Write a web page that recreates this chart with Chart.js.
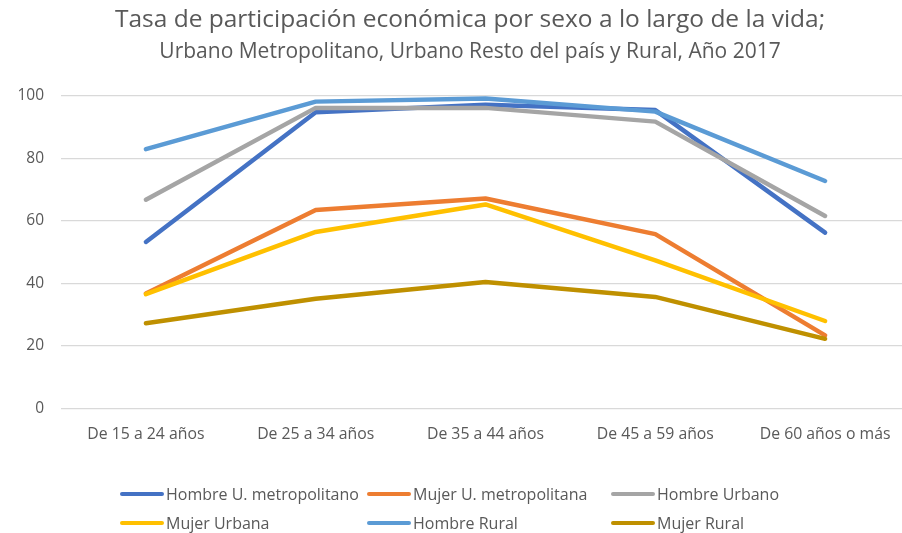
<!DOCTYPE html>
<html>
<head>
<meta charset="utf-8">
<script src="https://cdn.jsdelivr.net/npm/chart.js@4.4.1/dist/chart.umd.min.js"></script>
<style>
  html, body { margin: 0; padding: 0; background: #fff; overflow: hidden; width: 902px; height: 533px; }
  #wrap { position: relative; width: 910px; height: 533px; }
  #legend { position: absolute; left: 0; top: 0; width: 902px; height: 533px; pointer-events: none;
            font-family: "Open Sans", sans-serif; font-size: 16px; color: #595959; }
  .li { position: absolute; display: flex; align-items: center; height: 20px; white-space: nowrap; }
  .sw { width: 44px; height: 4px; border-radius: 2px; margin-right: 2px; }
</style>
</head>
<body>
<div id="wrap">
  <canvas id="c" width="910" height="533"></canvas>
  <div id="legend"></div>
</div>
<script>
const categories = ["De 15 a 24 años", "De 25 a 34 años", "De 35 a 44 años", "De 45 a 59 años", "De 60 años o más"];
const hombreMetro = [53.3, 94.8, 97.2, 95.5, 56.3];
const mujerMetro  = [36.8, 63.5, 67.2, 55.8, 23.4];
const hombreUrb   = [66.8, 96.2, 96.2, 91.8, 61.6];
const mujerUrb    = [36.6, 56.5, 65.3, 47.4, 28.0];
const hombreRural = [83.0, 98.2, 99.2, 95.0, 72.8];
const mujerRural  = [27.3, 35.1, 40.5, 35.7, 22.3];
const yTicks = [0, 20, 40, 60, 80, 100];

const seriesNames = ["Hombre U. metropolitano", "Mujer U. metropolitana", "Hombre Urbano", "Mujer Urbana", "Hombre Rural", "Mujer Rural"];
const seriesData = [hombreMetro, mujerMetro, hombreUrb, mujerUrb, hombreRural, mujerRural];
const colors = ["#4472C4", "#ED7D31", "#A5A5A5", "#FFC000", "#5B9BD5", "#BF9000"];

const datasets = seriesNames.map((n, i) => ({
  label: n,
  data: seriesData[i],
  borderColor: colors[i],
  backgroundColor: colors[i],
  borderWidth: 4.5,
  pointRadius: 0,
  tension: 0,
  borderCapStyle: "round",
  borderJoinStyle: "round",
  fill: false,
  order: seriesNames.length - i
}));

// center the title blocks like the reference (slightly left of the plot centre)
const titleCenterPlugin = {
  id: "titleCenter",
  afterLayout(chart) {
    (chart.boxes || []).forEach(b => {
      if (b && b.options && typeof b.options.text === "string") { b.left = 0; b.right = 940; }
    });
  }
};

new Chart(document.getElementById("c"), {
  type: "line",
  data: { labels: categories, datasets },
  plugins: [titleCenterPlugin],
  options: {
    responsive: false,
    animation: false,
    layout: { padding: { left: 0, right: 0, top: 0, bottom: 79.5 } },
    plugins: {
      legend: { display: false },
      tooltip: { enabled: false },
      title: {
        display: true,
        text: "Tasa de participación económica por sexo a lo largo de la vida;",
        color: "#595959",
        font: { family: "Open Sans", size: 24.5, weight: "normal", lineHeight: 1.2 },
        padding: { top: 5.3, bottom: 0 },
        fullSize: true
      },
      subtitle: {
        display: true,
        text: "Urbano Metropolitano, Urbano Resto del país y Rural, Año 2017",
        color: "#595959",
        font: { family: "Open Sans", size: 21, weight: "normal", lineHeight: 1.2 },
        padding: { top: 4.7, bottom: 31.4 },
        fullSize: true
      }
    },
    scales: {
      x: {
        offset: true,
        grid: { display: false, drawTicks: false },
        border: { display: false },
        ticks: { color: "#595959", font: { family: "Open Sans", size: 15.8 }, padding: 16.5, maxRotation: 0 },
        afterFit: s => { s.height = 45; }
      },
      y: {
        min: 0, max: 100,
        afterBuildTicks: s => { s.ticks = yTicks.map(v => ({ value: v })); },
        grid: { color: "#D9D9D9", lineWidth: 1.3, drawTicks: false },
        border: { display: false },
        ticks: { color: "#595959", font: { family: "Open Sans", size: 15.5 }, padding: 17 },
        afterFit: s => { s.width = 61; }
      }
    }
  }
});

// HTML legend in the reference's 3-column grid
const legendPos = [[120, 494], [367, 494], [611, 494], [120, 523], [367, 523], [611, 523]];
const lg = document.getElementById("legend");
seriesNames.forEach((n, i) => {
  const d = document.createElement("div");
  d.className = "li";
  d.style.left = legendPos[i][0] + "px";
  d.style.top = (legendPos[i][1] - 10) + "px";
  d.innerHTML = '<span class="sw" style="background:' + colors[i] + '"></span><span>' + n + '</span>';
  lg.appendChild(d);
});
</script>
</body>
</html>
